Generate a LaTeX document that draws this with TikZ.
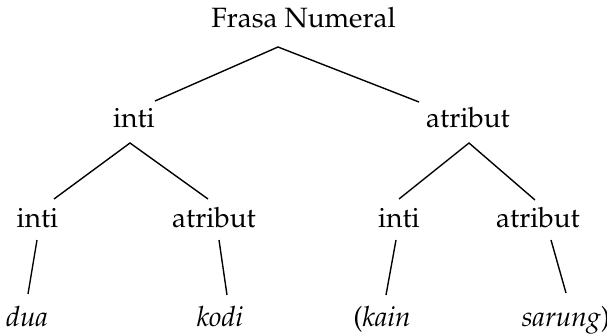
\documentclass[tikz,border=0pt]{standalone}
\usepackage[T1]{fontenc}
\usepackage{mathpazo}
\usepackage{tikz}
\usetikzlibrary{calc, positioning}
\tikzstyle{lbl}=[inner sep=0pt, anchor=base, font=\fontsize{12}{14}\selectfont]
\tikzstyle{br}=[line width=0.6pt]

\begin{document}
\begin{tikzpicture}[x=0.43pt, y=-0.43pt]
\useasboundingbox (0,0) rectangle (607,334);
\node[lbl] (fn) at (303.5,28) {Frasa Numeral};
\node[lbl] (inti1) at (134,127) {inti};
\node[lbl] (atr1) at (468,127) {atribut};
\node[lbl] (inti11) at (37.5,227) {inti};
\node[lbl] (atr12) at (214,227) {atribut};
\node[lbl] (inti21) at (399,227) {inti};
\node[lbl] (atr22) at (538,227) {atribut};
\node[lbl] (dua) at (27,326) {\textit{dua}};
\node[lbl] (kodi) at (220,326) {\textit{kodi}};
\node[lbl] (kain) at (382,326) {(\textit{kain}};
\node[lbl] (sarung) at (566,326) {\textit{sarung})};
%
\draw[br] ([shift={(21,-26)}]inti1.base) -- ([shift={(-25.5,19)}]fn.base) -- ([shift={(-49,-25)}]atr1.base);
\draw[br] ([shift={(16.5,-28)}]inti11.base) -- ([shift={(-4,16)}]inti1.base) -- ([shift={(-6,-28)}]atr12.base);
\draw[br] ([shift={(0,-28)}]inti21.base) -- ([shift={(1,16)}]atr1.base) -- ([shift={(-3,-27)}]atr22.base);
\draw[br] ([shift={(-0.5,13)}]inti11.base) -- ([shift={(1,-32)}]dua.base);
\draw[br] ([shift={(5,13)}]atr12.base) -- ([shift={(7,-31)}]kodi.base);
\draw[br] ([shift={(-3,13)}]inti21.base) -- ([shift={(4,-31)}]kain.base);
\draw[br] ([shift={(13,13)}]atr22.base) -- ([shift={(0,-33)}]sarung.base);
\end{tikzpicture}
\end{document}
